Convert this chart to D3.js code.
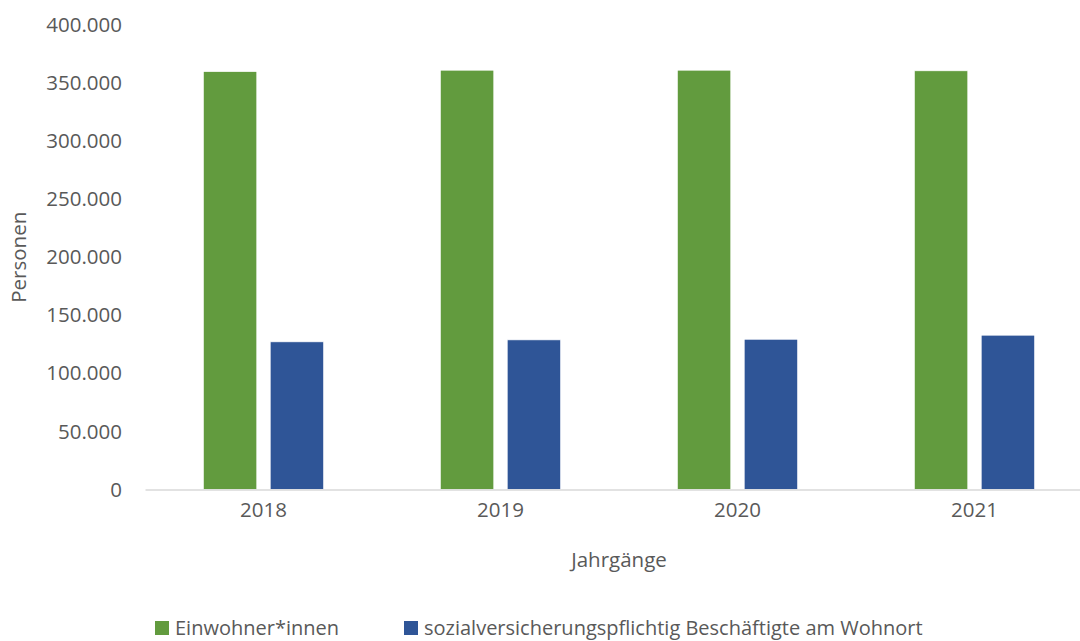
<!DOCTYPE html>
<html>
<head>
<meta charset="utf-8">
<script src="https://cdn.jsdelivr.net/npm/d3@7"></script>
<style>
  html, body { margin: 0; padding: 0; background: #fff; }
  svg { display: block; font-family: "Open Sans", sans-serif; }
</style>
</head>
<body>
<div id="chart"></div>
<script>
const years = ['2018', '2019', '2020', '2021'];
const seriesNames = ['Einwohner*innen', 'sozialversicherungspflichtig Beschäftigte am Wohnort'];
const einwohner = [360000, 361100, 361100, 360600];
const beschaeftigte = [127200, 128900, 129400, 132900];
const yTicks = [0, 50000, 100000, 150000, 200000, 250000, 300000, 350000, 400000];
const colors = ['#629B3E', '#2F5597'];

const W = 1080, H = 641;
const plot = { left: 145, right: 1093, top: 25, bottom: 489.5 };
const textColor = '#595959';

const svg = d3.select('#chart').append('svg').attr('width', W).attr('height', H);

const x0 = d3.scaleBand().domain(years).range([plot.left, plot.right]).padding(0);
const bw = x0.bandwidth();
const x1 = d3.scaleBand().domain(seriesNames).range([bw * 0.246, bw * 0.754]).paddingInner(0.2).paddingOuter(0);
const y = d3.scaleLinear().domain([0, 400000]).range([plot.bottom, plot.top]);

const fmt = v => v === 0 ? '0' : d3.format(',')(v).replace(/,/g, '.');

// y axis (labels only)
const yAxis = svg.append('g').attr('transform', `translate(${plot.left},0)`)
  .call(d3.axisLeft(y).tickValues(yTicks).tickSize(0).tickPadding(23).tickFormat(fmt));
yAxis.select('.domain').remove();
yAxis.selectAll('text').style('font-size', '20.5px').style('fill', textColor).style('font-family', '"Open Sans", sans-serif');

// bars
const data = years.map((yr, i) => ({ year: yr, values: [einwohner[i], beschaeftigte[i]] }));
const groups = svg.selectAll('.grp').data(data).join('g').attr('class', 'grp')
  .attr('transform', d => `translate(${x0(d.year)},0)`);
groups.selectAll('rect').data(d => d.values.map((v, j) => ({ key: seriesNames[j], v, j })))
  .join('rect')
  .attr('x', d => x1(d.key)).attr('width', x1.bandwidth())
  .attr('y', d => y(d.v)).attr('height', d => y(0) - y(d.v))
  .attr('fill', d => colors[d.j]).attr('stroke', '#fff').attr('stroke-width', 0.75);

// x axis
const xAxis = svg.append('g').attr('transform', `translate(0,${plot.bottom})`)
  .call(d3.axisBottom(x0).tickSize(0).tickPadding(13));
xAxis.select('.domain').attr('stroke', '#D9D9D9').attr('stroke-width', 1.5);
xAxis.selectAll('text').style('font-size', '20.5px').style('fill', textColor).style('font-family', '"Open Sans", sans-serif');

// axis titles
svg.append('text').attr('x', (plot.left + plot.right) / 2).attr('y', 567)
  .attr('text-anchor', 'middle').style('font-size', '20.5px').style('fill', textColor).text('Jahrgänge');
svg.append('text').attr('transform', `translate(26,${(plot.top + plot.bottom) / 2}) rotate(-90)`)
  .attr('text-anchor', 'middle').style('font-size', '20.5px').style('fill', textColor).text('Personen');

// legend
const legendX = [155, 404];
const lg = svg.selectAll('.lg').data(seriesNames).join('g').attr('class', 'lg')
  .attr('transform', (d, i) => `translate(${legendX[i]},621)`);
lg.append('rect').attr('width', 14).attr('height', 14).attr('fill', (d, i) => colors[i]);
lg.append('text').attr('x', 20).attr('y', 14).style('font-size', '20px').style('fill', textColor).text(d => d);
</script>
</body>
</html>
